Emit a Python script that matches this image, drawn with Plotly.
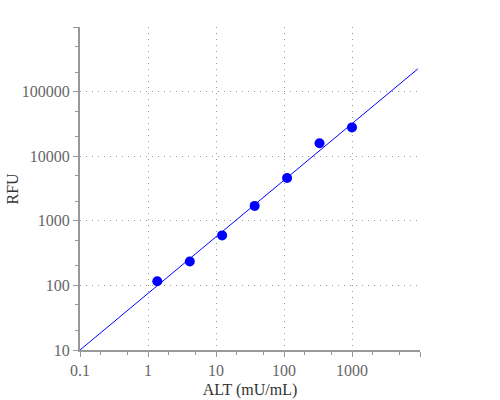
import plotly.graph_objects as go

alt = [1.37, 4.12, 12.3, 37.0, 111, 333, 1000]
rfu = [116, 234, 594, 1700, 4600, 15900, 27900]
fit_x = [0.1, 9300]
fit_y = [10, 225000]

x_tickvals = [0.1, 1, 10, 100, 1000, 10000]
x_ticktext = ["0.1", "1", "10", "100", "1000", ""]
y_tickvals = [10, 100, 1000, 10000, 100000, 1000000]
y_ticktext = ["10", "100", "1000", "10000", "100000", ""]

fig = go.Figure()
fig.add_trace(go.Scatter(x=fit_x, y=fit_y, mode="lines",
                         line=dict(color="#0000ff", width=1), showlegend=False))
fig.add_trace(go.Scatter(x=alt, y=rfu, mode="markers",
                         marker=dict(color="#0000ff", size=10), showlegend=False))

fam = "Liberation Serif"
font = dict(family=fam, size=16, color="#666")
axis_common = dict(
    type="log", showline=True, linecolor="#999", linewidth=2,
    ticks="outside", ticklen=5, tickcolor="#999", tickwidth=1,
    showgrid=True, gridcolor="#999", griddash="1px,5px", gridwidth=1,
    zeroline=False, tickfont=font, automargin=False,
    minor=dict(ticks="outside", ticklen=3, tickcolor="#999", showgrid=False),
)
fig.update_xaxes(range=[-1, 4], tickvals=x_tickvals, ticktext=x_ticktext,
                 title=dict(text="ALT (mU/mL)", font=dict(family=fam, size=16, color="#333"), standoff=6),
                 **axis_common)
fig.update_yaxes(range=[1, 6], tickvals=y_tickvals, ticktext=y_ticktext, **axis_common)
fig.add_annotation(text="RFU", xref="paper", yref="paper", x=-0.2, y=0.5,
                   xanchor="center", yanchor="middle", textangle=-90, showarrow=False,
                   font=dict(family=fam, size=16, color="#333"))
fig.update_layout(width=500, height=400, margin=dict(l=80, r=80, t=27, b=50),
                  plot_bgcolor="white", paper_bgcolor="white")
fig.write_html("out.html")
